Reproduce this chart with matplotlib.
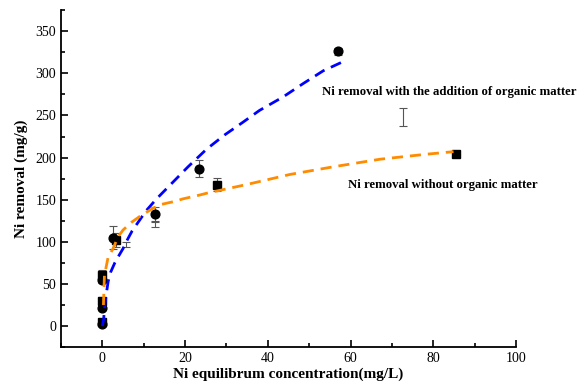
import matplotlib
matplotlib.use("Agg")
import matplotlib.pyplot as plt
from matplotlib.ticker import MultipleLocator

plt.rcParams['font.family'] = ['Liberation Serif', 'DejaVu Serif']

# Measured data: with organic matter (circles)
circ_x = [0, 0, 0, 2.6, 12.7, 23.3, 57.0]
circ_y = [3, 22, 55, 105, 133, 187, 326]
circ_err = [3, 3, 4, 14, 8, 10, 4]

# Measured data: without organic matter (squares)
sq_x = [0, 0, 0, 3.4, 27.7, 85.5]
sq_y = [5, 30, 60, 102, 168, 204]
sq_err = [3, 4, 6, 8, 8, 3]

# Stray error bars without visible markers
stray_x = [5.6, 12.7, 72.8]
stray_y = [97, 121, 248]
stray_err = [3, 3, 11]

# Fitted curves
blue_x = [0.0, 0.3, 0.6, 1.0, 1.4, 2.0, 3.0, 3.8, 5.0, 6.1, 7.2, 10.6, 13.1,
          16.3, 20.7, 25.2, 29.6, 34.0, 38.0, 43.7, 48.6, 53.4, 58.7]
blue_y = [0, 8, 25, 40, 53, 64, 75, 82, 92, 103, 113, 137, 151,
          167, 189, 210, 227, 242, 256, 272, 288, 303, 315]

orange_x = [0.25, 0.35, 0.5, 0.9, 1.4, 2.6, 3.8, 5.0, 7.0, 9.0, 12.3, 13.9,
            17.5, 19.5, 23.1, 25.5, 34.9, 45.4, 55.8, 67.1, 78.4, 84.9]
orange_y = [25, 40, 60, 70, 82, 92, 106, 114, 123, 130, 140, 144,
            148, 151, 155, 158, 168, 180, 189, 198, 204, 207]

label_with = 'Ni removal with the addition of organic matter'
label_without = 'Ni removal without organic matter'

fig = plt.figure(figsize=(5.84, 3.90), dpi=100)
ax = fig.add_axes([0.1045, 0.110, 0.779, 0.864])

ekw = dict(fmt='none', ecolor='#555555', elinewidth=0.8, capsize=3, capthick=0.8, zorder=2)
ax.errorbar(circ_x, circ_y, yerr=circ_err, **ekw)
ax.errorbar(sq_x, sq_y, yerr=sq_err, **ekw)
ax.errorbar(stray_x, stray_y, yerr=stray_err, **ekw)

ax.plot(sq_x, sq_y, 's', color='black', markersize=5.5, zorder=3)
ax.plot(circ_x, circ_y, 'o', color='black', markersize=6.3, zorder=3)

ax.plot(blue_x, blue_y, color='#0000ff', lw=2, dashes=(4, 2.5), zorder=4)
ax.plot(orange_x, orange_y, color='#ff8c00', lw=2, dashes=(4, 2.5), zorder=4)

ax.set_xlim(-10, 100)
ax.set_ylim(-25, 375)
ax.xaxis.set_major_locator(MultipleLocator(20))
ax.xaxis.set_minor_locator(MultipleLocator(10))
ax.yaxis.set_major_locator(MultipleLocator(50))
ax.yaxis.set_minor_locator(MultipleLocator(25))
ax.tick_params(which='both', direction='in', width=1.2, labelsize=10)
ax.tick_params(which='major', length=5)
ax.tick_params(which='minor', length=3)
ax.spines['top'].set_visible(False)
ax.spines['right'].set_visible(False)
ax.spines['left'].set_linewidth(1.3)
ax.spines['bottom'].set_linewidth(1.3)

ax.set_xlabel('Ni equilibrum concentration(mg/L)', fontsize=11, fontweight='bold', labelpad=2)
ax.set_ylabel('Ni removal (mg/g)', fontsize=11, fontweight='bold', labelpad=5)

ax.text(53.1, 278, label_with, fontsize=9.2, fontweight='bold', va='center', ha='left')
ax.text(59.5, 167, label_without, fontsize=9.2, fontweight='bold', va='center', ha='left')

fig.savefig('out.png', dpi=100)
